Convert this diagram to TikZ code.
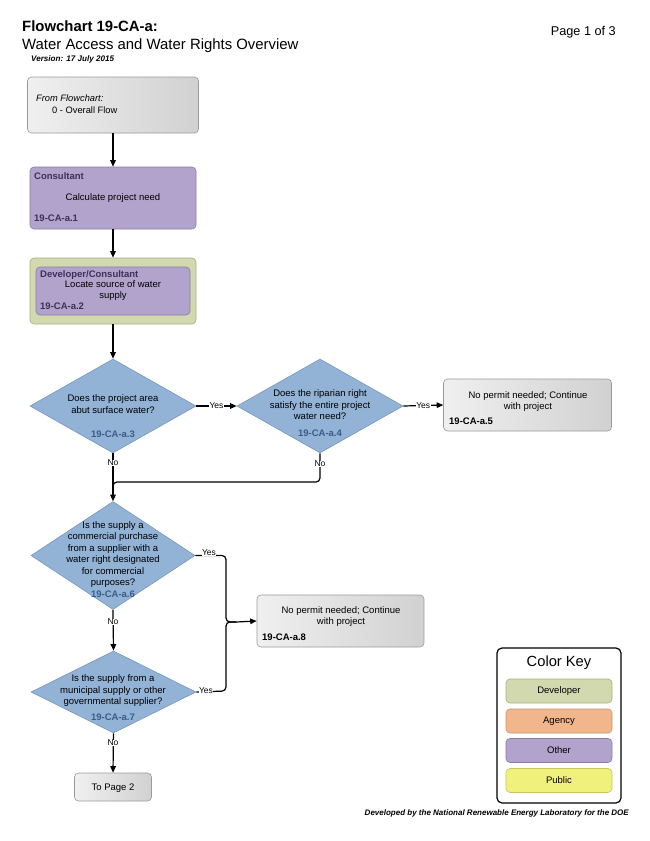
\documentclass[tikz,border=0pt]{standalone}
\usepackage{fontspec}
\setmainfont{Liberation Sans}
\usetikzlibrary{shapes.geometric,arrows.meta}
\definecolor{dblue}{HTML}{92B2D6}
\definecolor{dblueline}{HTML}{7897BE}
\definecolor{idblue}{HTML}{3A5C88}
\definecolor{purp}{HTML}{B1A3CC}
\definecolor{purpline}{HTML}{8A7CA8}
\definecolor{idpurp}{HTML}{3E2F5C}
\definecolor{grn}{HTML}{D2D9AF}
\definecolor{grnline}{HTML}{A8AF80}
\definecolor{orng}{HTML}{F2B68C}
\definecolor{orngline}{HTML}{C9936C}
\definecolor{yell}{HTML}{F0F07C}
\definecolor{yellline}{HTML}{C8C85E}
\definecolor{gryline}{HTML}{9A9A9A}
\begin{document}
\begin{tikzpicture}[x=1pt,y=-1pt,
  txt/.style={font=\fontsize{9.5}{11.5}\selectfont, align=center, inner sep=0pt},
  idtxt/.style={font=\fontsize{9.5}{11.5}\selectfont\bfseries, inner sep=0pt, anchor=west},
  grybox/.style={draw=gryline, rounded corners=4pt, left color=black!6, right color=black!18, line width=0.6pt},
  purpbox/.style={draw=purpline, rounded corners=4pt, fill=purp, line width=0.6pt},
  grnbox/.style={draw=grnline, rounded corners=4pt, fill=grn, line width=0.6pt},
  dia/.style={diamond, draw=dblueline, fill=dblue, inner sep=0pt, line width=0.6pt},
  arr/.style={-{Triangle[length=6.5pt,width=5.5pt]}, line width=1.2pt},
  ln/.style={line width=1.2pt, rounded corners=4pt},
  lbl/.style={font=\fontsize{8.5}{9}\selectfont, fill=white, inner sep=0.5pt},
  keybox/.style={rounded corners=4pt, line width=0.6pt, minimum width=106pt, minimum height=24pt, font=\fontsize{9.5}{11}\selectfont}
]
\useasboundingbox (0,0) rectangle (650,841);
\fill[white] (0,0) rectangle (650,841);

% titles
\node[anchor=base west, inner sep=0pt, font=\fontsize{14.9}{16}\selectfont\bfseries] (t1) at (22,31) {Flowchart 19-CA-a:};
\node[anchor=base west, inner sep=0pt, font=\fontsize{14.9}{16}\selectfont] (t2) at (22,49) {Water Access and Water Rights Overview};
\node[anchor=base west, inner sep=0pt, font=\fontsize{8.1}{9}\selectfont\bfseries\itshape] (t3) at (31,61) {Version: 17 July 2015};
\node[anchor=base east, inner sep=0pt, font=\fontsize{12.7}{14}\selectfont] (pg) at (616,35) {Page 1 of 3};

% From box
\node[grybox, minimum width=171pt, minimum height=56pt] (from) at (113,105) {};
\node[anchor=base west, inner sep=0pt, font=\fontsize{9.3}{10}\selectfont\itshape] (fromt) at (36,101) {From Flowchart:};
\node[anchor=base west, inner sep=0pt, font=\fontsize{9.3}{10}\selectfont] (fromt2) at (52,113) {0 - Overall Flow};

% box 1
\node[purpbox, minimum width=166pt, minimum height=62pt] (b1) at (113,198) {};
\node[idtxt, text=idpurp, anchor=base west] (b1r) at (34,179) {Consultant};
\node[txt, anchor=base] (b1t) at (113,200.5) {Calculate project need};
\node[idtxt, text=idpurp, anchor=base west] (b1i) at (34,221.5) {19-CA-a.1};

% box 2
\node[grnbox, minimum width=166pt, minimum height=66pt] (b2) at (113,291) {};
\node[purpbox, minimum width=154pt, minimum height=48pt] (b2in) at (113,291) {};
\node[idtxt, text=idpurp, anchor=base west] (b2r) at (40,277.5) {Developer/Consultant};
\node[txt, anchor=base] (b2t) at (113,287.5) {Locate source of water};
\node[txt, anchor=base] (b2t2) at (113,298.5) {supply};
\node[idtxt, text=idpurp, anchor=base west] (b2i) at (40,309.5) {19-CA-a.2};

% diamond 3
\node[dia, minimum width=166pt, minimum height=94pt] (d3) at (113,406) {};
\node[txt, anchor=base] (d3t) at (113,413) {Does the project area\\abut surface water?};
\node[idtxt, text=idblue, anchor=base] (d3i) at (113,437.5) {19-CA-a.3};

% diamond 4
\node[dia, minimum width=166pt, minimum height=94pt] (d4) at (320,406) {};
\node[txt, anchor=base] (d4t) at (320,419.5) {Does the riparian right\\satisfy the entire project\\water need?};
\node[idtxt, text=idblue, anchor=base] (d4i) at (320,436.5) {19-CA-a.4};

% box 5
\node[grybox, minimum width=168pt, minimum height=52pt] (b5) at (527.5,405) {};
\node[txt, anchor=base] (b5t) at (528,409.5) {No permit needed; Continue\\with project};
\node[idtxt, anchor=base west] (b5i) at (449,424.5) {19-CA-a.5};

% diamond 6
\node[dia, minimum width=164pt, minimum height=108pt] (d6) at (113,555.5) {};
\node[txt, anchor=base] (d6t) at (113,585.5) {Is the supply a\\commercial purchase\\from a supplier with a\\water right designated\\for commercial\\purposes?};
\node[idtxt, text=idblue, anchor=base] (d6i) at (113,597.5) {19-CA-a.6};

% diamond 7
\node[dia, minimum width=165pt, minimum height=82pt] (d7) at (113.5,692) {};
\node[txt, anchor=base] (d7t) at (113,704.5) {Is the supply from a\\municipal supply or other\\governmental supplier?};
\node[idtxt, text=idblue, anchor=base] (d7i) at (113,720.5) {19-CA-a.7};

% box 8
\node[grybox, minimum width=167pt, minimum height=52pt] (b8) at (340.5,621) {};
\node[txt, anchor=base] (b8t) at (341,624.5) {No permit needed; Continue\\with project};
\node[idtxt, anchor=base west] (b8i) at (262,640.5) {19-CA-a.8};

% To page 2
\node[grybox, minimum width=77pt, minimum height=28pt] (p2) at (113,787) {};
\node[txt, anchor=base] (p2t) at (113,790) {To Page 2};

% coordinates
\coordinate (m1) at (113,482);
\coordinate (m1b) at (113,492);
\coordinate (j1) at (226,555.5);
\coordinate (j2) at (226,622);
\coordinate (j2b) at (236,622);
\coordinate (j3) at (226,691);

% connectors
\draw[arr] (from.south) -- (b1.north);
\draw[arr] (b1.south) -- (b2.north);
\draw[arr] (b2.south) -- (d3.north);
\draw[arr] (d3.east) -- node[lbl] {Yes} (d4.west);
\draw[arr] (d4.east) -- node[lbl] {Yes} (b5.west);
\draw[arr] (d3.south) -- (d6.north);
\node[lbl] (no1) at (113,463) {No};
\draw[ln] (d4.south) |- (m1) -- (m1b);
\node[lbl] (no2) at (320,464) {No};
\draw[ln] (d6.east) -- (j1) |- (j2b);
\node[lbl] (y6) at (209,553) {Yes};
\draw[ln] (d7.east) -- (j3) |- (j2b);
\node[lbl] (y7) at (206,691) {Yes};
\draw[arr] (j2b) -- (b8.west);
\draw[arr] (d6.south) -- (d7.north);
\node[lbl] (no6) at (113,622) {No};
\draw[arr] (d7.south) -- (p2.north);
\node[lbl] (no7) at (113,743) {No};

% color key
\node[draw, line width=1.2pt, rounded corners=5pt, minimum width=124pt, minimum height=155pt] (key) at (559,725.5) {};
\node[inner sep=0pt, anchor=base, font=\fontsize{14.7}{16}\selectfont] (keyt) at (559,666) {Color Key};
\node[keybox, draw=grnline, fill=grn] (k1) at (559,691) {Developer};
\node[keybox, draw=orngline, fill=orng] (k2) at (559,721) {Agency};
\node[keybox, draw=purpline, fill=purp] (k3) at (559,750.5) {Other};
\node[keybox, draw=yellline, fill=yell] (k4) at (559,780.5) {Public};

\node[anchor=base east, inner sep=0pt, font=\fontsize{8}{9}\selectfont\bfseries\itshape] (foot) at (629,815) {Developed by the National Renewable Energy Laboratory for the DOE};
\end{tikzpicture}
\end{document}
